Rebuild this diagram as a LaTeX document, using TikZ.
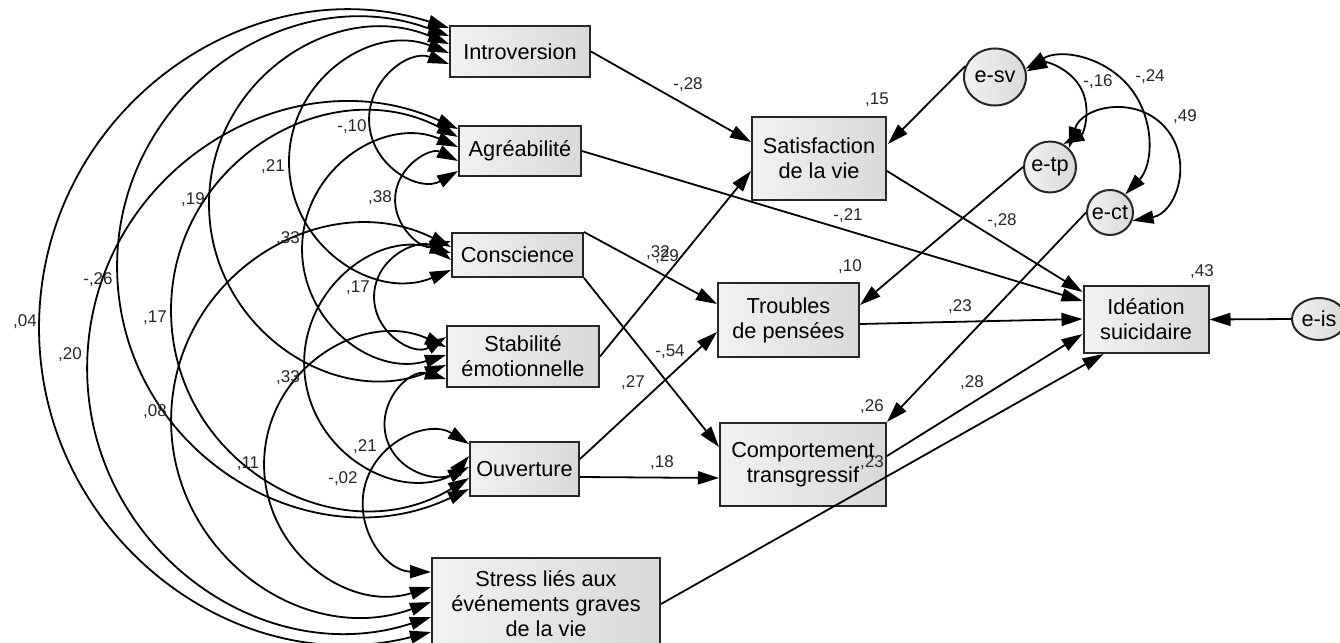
\documentclass[tikz,border=0pt]{standalone}
\usepackage{fontspec}
\setmainfont{Liberation Sans}
\usetikzlibrary{arrows.meta,calc,shapes.geometric}
\newcommand\varfont{\fontsize{21.7}{25}\selectfont}
\newcommand\coeffont{\fontsize{17}{20}\selectfont}

\begin{document}
\begin{tikzpicture}[x=1pt,y=-1pt,
  >={Triangle[length=21pt,width=13pt]},
  var/.style={draw=black!85, line width=2pt, left color=black!5, right color=black!15,
    align=center, inner sep=0pt, font=\varfont, text=black},
  box/.style={var, rectangle},
  err/.style={var, ellipse},
  reg/.style={->, line width=1.8pt},
  % covariance arc: circular arc through both ends, #1 = signed bulge from the chord midpoint,
  % built from two cubic halves meeting at the outermost point
  cov/.style={<->, line width=1.8pt, to path={
    let \p1=(\tikztostart), \p2=(\tikztotarget),
        \n1={50*sqrt(((\x2-\x1)/100)^2+((\y2-\y1)/100)^2)},
        \n2={#1},
        \n3={(\n2-\n1*(\n1/\n2))/2},
        \n4={abs(\n2-\n3)},
        \n5={(\n2/abs(\n2))*4/3*tan(acos(-(\n3)/(\n2-\n3))/4)},
        \n6={(\x2-\x1)/(2*\n1)},
        \n7={(\y2-\y1)/(2*\n1)},
        \n8={abs(\n5)*\n4},
        \p3=({(\x1+\x2)/2+(\n2)*(\n7)},{(\y1+\y2)/2-(\n2)*(\n6)})
    in .. controls ({\x1+(\n5)*((\n1)*(\n7)-(\n3)*(\n6))},{\y1+(\n5)*(-(\n1)*(\n6)-(\n3)*(\n7))})
              and ({\x3-(\n8)*(\n6)},{\y3-(\n8)*(\n7)}) .. (\p3)
       .. controls ({\x3+(\n8)*(\n6)},{\y3+(\n8)*(\n7)})
              and ({\x2+(\n5)*((\n1)*(\n7)+(\n3)*(\n6))},{\y2+(\n5)*(-(\n1)*(\n6)+(\n3)*(\n7))}) .. (\tikztotarget)}},
  coef/.style={font=\coeffont, text=black!85, inner sep=0pt}
]
\useasboundingbox (0,0) rectangle (1340,642);
\clip (0,0) rectangle (1340,642);

% exogenous variables
\node[box, minimum width=140pt, minimum height=51pt] (intro) at (520,51.5) {Introversion};
\node[box, minimum width=122pt, minimum height=50pt] (agre) at (520,151) {Agréabilité};
\node[box, minimum width=131pt, minimum height=44pt] (consc) at (517.5,255) {Conscience};
\node[box, minimum width=152pt, minimum height=61pt] (stab) at (523,356.5) {Stabilité\\émotionnelle};
\node[box, minimum width=109pt, minimum height=54pt] (ouv) at (524.5,469) {Ouverture};
\node[box, minimum width=228pt, minimum height=92pt] (stress) at (546,604) {Stress liés aux\\événements graves\\de la vie};

% endogenous variables
\node[box, minimum width=134pt, minimum height=83pt] (satis) at (819,158.5) {Satisfaction\\de la vie};
\node[box, minimum width=141pt, minimum height=74pt] (troub) at (788.5,320) {Troubles\\de pensées};
\node[box, minimum width=166pt, minimum height=83pt] (comp) at (803,464.5) {Comportement\\transgressif};
\node[box, minimum width=125pt, minimum height=67pt] (ideat) at (1146,319.5) {Idéation\\suicidaire};

% residuals
\node[err, minimum width=62pt, minimum height=57pt] (esv) at (995,77) {\makebox[0pt]{e-sv}};
\node[err, minimum width=52pt, minimum height=51pt] (etp) at (1050,167) {\makebox[0pt]{e-tp}};
\node[err, minimum width=46pt, minimum height=45pt] (ect) at (1110,212.5) {\makebox[0pt]{e-ct}};
\node[err, minimum width=54pt, minimum height=42pt] (eis) at (1319,319) {\makebox[0pt]{e-is}};

% attachment points of the covariance arcs
\coordinate (iS)  at ($(intro.north west)+(0,3)$);
\coordinate (iO)  at ($(intro.north west)+(0,11)$);
\coordinate (iSt) at ($(intro.north west)+(0,19)$);
\coordinate (iC)  at ($(intro.north west)+(0,28)$);
\coordinate (iA)  at ($(intro.north west)+(0,39)$);
\coordinate (aS)  at ($(agre.north west)+(0,4)$);
\coordinate (aO)  at ($(agre.north west)+(0,12)$);
\coordinate (aSt) at ($(agre.north west)+(0,22)$);
\coordinate (aC)  at ($(agre.north west)+(0,36)$);
\coordinate (aI)  at ($(agre.north west)+(0,46)$);
\coordinate (cA)  at ($(consc.north west)+(0,9)$);
\coordinate (cS)  at ($(consc.north west)+(0,15)$);
\coordinate (cO)  at ($(consc.north west)+(0,21)$);
\coordinate (cSt) at ($(consc.north west)+(0,28)$);
\coordinate (cI)  at ($(consc.north west)+(0,38)$);
\coordinate (stC) at ($(stab.north west)+(0,12)$);
\coordinate (stS) at ($(stab.north west)+(0,22)$);
\coordinate (stA) at ($(stab.north west)+(0,30)$);
\coordinate (stI) at ($(stab.north west)+(0,40)$);
\coordinate (stO) at ($(stab.north west)+(0,54)$);
\coordinate (oS)  at ($(ouv.north west)+(0,3)$);
\coordinate (oSt) at ($(ouv.north west)+(0,15)$);
\coordinate (oC)  at ($(ouv.north west)+(0,26)$);
\coordinate (oA)  at ($(ouv.north west)+(0,37)$);
\coordinate (oI)  at ($(ouv.north west)+(0,48)$);
\coordinate (sO)  at ($(stress.north west)+(0,15)$);
\coordinate (sSt) at ($(stress.north west)+(0,30)$);
\coordinate (sC)  at ($(stress.north west)+(0,45)$);
\coordinate (sA)  at ($(stress.north west)+(0,60)$);
\coordinate (sI)  at ($(stress.north west)+(0,75)$);

% covariances among the predictors
\draw[cov=401]   (iS)  to (sI);
\draw[cov=357.5] (aS)  to (sA);
\draw[cov=342]   (iO)  to (oI);
\draw[cov=292.5] (aO)  to (oA);
\draw[cov=270]   (cS)  to (sC);
\draw[cov=238.5] (iSt) to (stI);
\draw[cov=161]   (iC)  to (cI);
\draw[cov=150]   (aSt) to (stA);
\draw[cov=156]   (cO)  to (oC);
\draw[cov=174.5] (stS) to (sSt);
\draw[cov=84.5]  (iA)  to (aI);
\draw[cov=59.5]  (aC)  to (cA);
\draw[cov=74.5]  (cSt) to (stC);
\draw[cov=74]    (stO) to (oSt);
\draw[cov=88]    (oS)  to (sO);

% regression paths
\draw[reg] (intro.east) -- ($(satis.north west)+(0,26)$);
\draw[reg] (agre.east) -- ($(ideat.north west)+(0,16)$);
\draw[reg] ($(satis.north east)+(0,55)$) -- ($(ideat.north west)+(0,7)$);
\draw[reg] (consc.north east) -- ($(troub.north west)+(0,22)$);
\draw[reg] (consc.south east) -- ($(comp.north west)+(0,25)$);
\draw[reg] (stab.east) -- ($(satis.north west)+(0,55)$);
\draw[reg] ($(ouv.north east)+(0,18)$) -- ($(troub.north west)+(0,50)$);
\draw[reg] ($(ouv.north east)+(0,36)$) -- ($(comp.north west)+(0,56)$);
\draw[reg] ($(troub.north east)+(0,42)$) -- ($(ideat.north west)+(0,34)$);
\draw[reg] ($(comp.north east)+(0,34)$) -- ($(ideat.north west)+(0,49)$);
\draw[reg] (stress.east) -- ($(ideat.south west)+(21,0)$);

% residual paths
\draw[reg] (esv.160) -- ($(satis.north east)+(1,28)$);
\draw[reg] (etp.west) -- ($(troub.north east)+(0,23)$);
\draw[reg] (ect.west) -- (comp.north east);
\draw[reg] (eis.west) -- (ideat.east);

% residual covariances
\draw[cov=-41] (esv.10) to (etp.60);
\draw[cov=-70] (esv.15) to (ect.50);
\draw[cov=-86] (etp.45) to (ect.-20);

% coefficients: predictor covariances
\node[coef] (k1)  at (352,127) {-,10};
\node[coef] (k2)  at (273,167) {,21};
\node[coef] (k3)  at (193,200) {,19};
\node[coef] (k4)  at (380,198) {,38};
\node[coef] (k5)  at (288,239) {,33};
\node[coef] (k6)  at (98,280)  {-,26};
\node[coef] (k7)  at (358,288) {,17};
\node[coef] (k8)  at (25,322)  {,04};
\node[coef] (k9)  at (155,318) {,17};
\node[coef] (k10) at (70,355)  {,20};
\node[coef] (k11) at (288,378) {,33};
\node[coef] (k12) at (155,412) {,08};
\node[coef] (k13) at (248,464) {,11};
\node[coef] (k14) at (343,479) {-,02};
\node[coef] (k15) at (365,447) {,21};

% coefficients: paths
\node[coef] (p1)  at (688,85)  {-,28};
\node[coef] (p2)  at (848,216) {-,21};
\node[coef] (p3)  at (1002,221) {-,28};
\node[coef] (p4)  at (658,253) {,32};
\node[coef] (p5)  at (667,257) {,29};
\node[coef] (p6)  at (670,352) {-,54};
\node[coef] (p7)  at (633,383) {,27};
\node[coef] (p8)  at (662,463) {,18};
\node[coef] (p9)  at (960,307) {,23};
\node[coef] (p10) at (972,383) {,28};
\node[coef] (p11) at (872,463) {,23};

% coefficients: residual covariances
\node[coef] (r1) at (1098,82)  {-,16};
\node[coef] (r2) at (1150,77)  {-,24};
\node[coef] (r3) at (1185,117) {,49};

% squared multiple correlations
\node[coef] (q1) at (877,100)  {,15};
\node[coef] (q2) at (850,267)  {,10};
\node[coef] (q3) at (872,407)  {,26};
\node[coef] (q4) at (1202,272) {,43};
\end{tikzpicture}
\end{document}
